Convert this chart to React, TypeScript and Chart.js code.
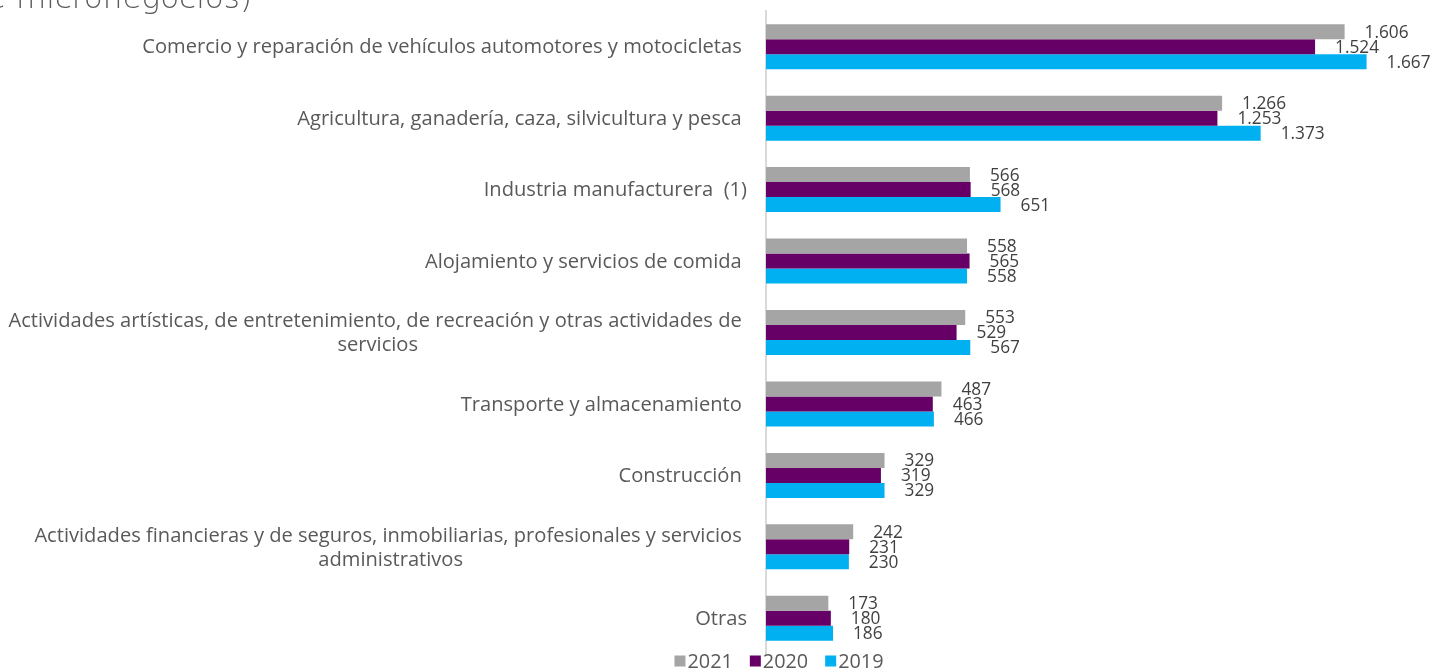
import React, { useEffect, useRef } from 'react';
import { Chart, registerables } from 'chart.js';

Chart.register(...registerables);

const categories: (string | string[])[] = [
  'Comercio y reparación de vehículos automotores y motocicletas ',
  'Agricultura, ganadería, caza, silvicultura y pesca ',
  'Industria manufacturera  (1)',
  'Alojamiento y servicios de comida ',
  ['Actividades artísticas, de entretenimiento, de recreación y otras actividades de ', 'servicios'],
  'Transporte y almacenamiento ',
  'Construcción ',
  ['Actividades financieras y de seguros, inmobiliarias, profesionales y servicios ', 'administrativos'],
  'Otras',
];

const seriesLabels = ['2021', '2020', '2019'];
const values2021 = [1606, 1266, 566, 558, 553, 487, 329, 242, 173];
const values2020 = [1524, 1253, 568, 565, 529, 463, 319, 231, 180];
const values2019 = [1667, 1373, 651, 558, 567, 466, 329, 230, 186];
const seriesColors = ['#A5A5A5', '#660066', '#00B0F0'];

const FONT = '"Open Sans", sans-serif';

const fmt = (v: number) => String(v).replace(/\B(?=(\d{3})+(?!\d))/g, '.');

let fontSize = 17;
let numSize = 17;

const labelsPlugin = {
  id: 'customLabels',
  beforeDraw(chart: any) {
    const ctx = chart.ctx;
    ctx.save();
    ctx.font = `100px ${FONT}`;
    const w = ctx.measureText('Comercio y reparación de vehículos automotores y motocicletas').width;
    fontSize = (100 * 600) / w;
    const wn = ctx.measureText('1.667').width;
    numSize = (100 * 44) / wn;
    ctx.restore();
  },
  afterDatasetsDraw(chart: any) {
    const ctx = chart.ctx;
    ctx.save();
    // data labels
    ctx.font = `${numSize}px ${FONT}`;
    ctx.fillStyle = '#404040';
    ctx.textAlign = 'left';
    ctx.textBaseline = 'middle';
    chart.data.datasets.forEach((ds: any, i: number) => {
      const meta = chart.getDatasetMeta(i);
      meta.data.forEach((el: any, j: number) => {
        ctx.fillText(fmt(ds.data[j]), el.x + 20, el.y + 1);
      });
    });
    // category labels
    ctx.font = `${fontSize}px ${FONT}`;
    const yScale = chart.scales.y;
    ctx.fillStyle = '#595959';
    ctx.textAlign = 'center';
    const rightEdge = 747;
    const lineH = 24;
    chart.data.labels.forEach((lab: any, i: number) => {
      const lines: string[] = Array.isArray(lab) ? lab : [lab];
      const widest = Math.max(...lines.map((l) => ctx.measureText(l).width));
      const cx = rightEdge - widest / 2;
      const cy = yScale.getPixelForTick(i);
      lines.forEach((l, k) => {
        ctx.fillText(l, cx, cy + (k - (lines.length - 1) / 2) * lineH + 1);
      });
    });
    // legend
    const box = 11;
    const gapBoxText = 2;
    const gapItems = 17;
    ctx.font = `${numSize * 1.15}px ${FONT}`;
    const widths = chart.data.datasets.map((ds: any) => ctx.measureText(ds.label).width);
    const total =
      widths.reduce((a: number, b: number) => a + b, 0) +
      chart.data.datasets.length * (box + gapBoxText) +
      (chart.data.datasets.length - 1) * gapItems;
    let x = 779 - total / 2;
    const ly = 661;
    ctx.textAlign = 'left';
    chart.data.datasets.forEach((ds: any, i: number) => {
      ctx.fillStyle = ds.backgroundColor;
      ctx.fillRect(x, ly - box / 2, box, box);
      x += box + gapBoxText;
      ctx.fillStyle = '#595959';
      ctx.fillText(ds.label, x, ly + 1);
      x += widths[i] + gapItems;
    });
    ctx.restore();
  },
};

export default function App() {
  const canvasRef = useRef<HTMLCanvasElement | null>(null);

  useEffect(() => {
    if (!canvasRef.current) return;
    const series = [values2021, values2020, values2019];
    const chart = new Chart(canvasRef.current, {
      type: 'bar',
      data: {
        labels: categories as any,
        datasets: series.map((vals, i) => ({
          label: seriesLabels[i],
          data: vals,
          backgroundColor: seriesColors[i],
          borderWidth: 0,
          categoryPercentage: 0.63,
          barPercentage: 1,
        })),
      },
      options: {
        indexAxis: 'y',
        animation: false,
        responsive: true,
        maintainAspectRatio: false,
        layout: { padding: { top: 11, bottom: 14, left: 0, right: 16.5 } },
        plugins: {
          legend: { display: false },
          tooltip: { enabled: false },
          title: { display: false },
        },
        scales: {
          x: { min: 0, max: 1800, display: false },
          y: {
            grid: { display: false },
            ticks: { display: false },
            border: { display: true, color: '#D9D9D9', width: 2 },
            afterFit: (s: any) => {
              s.width = 766;
            },
          },
        },
      },
      plugins: [labelsPlugin],
    });
    return () => chart.destroy();
  }, []);

  return (
    <div style={{ position: 'fixed', left: 0, top: 0, width: 1431, height: 668, overflow: 'hidden', background: '#fff' }}>
      <div
        style={{
          position: 'absolute',
          right: 1431 - 252,
          top: -18,
          fontFamily: '"DejaVu Sans", sans-serif',
          fontWeight: 200,
          fontSize: 31,
          lineHeight: '30px',
          color: '#595959',
          whiteSpace: 'nowrap',
        }}
      >
        (miles de micronegocios)
      </div>
      <canvas ref={canvasRef} />
    </div>
  );
}
